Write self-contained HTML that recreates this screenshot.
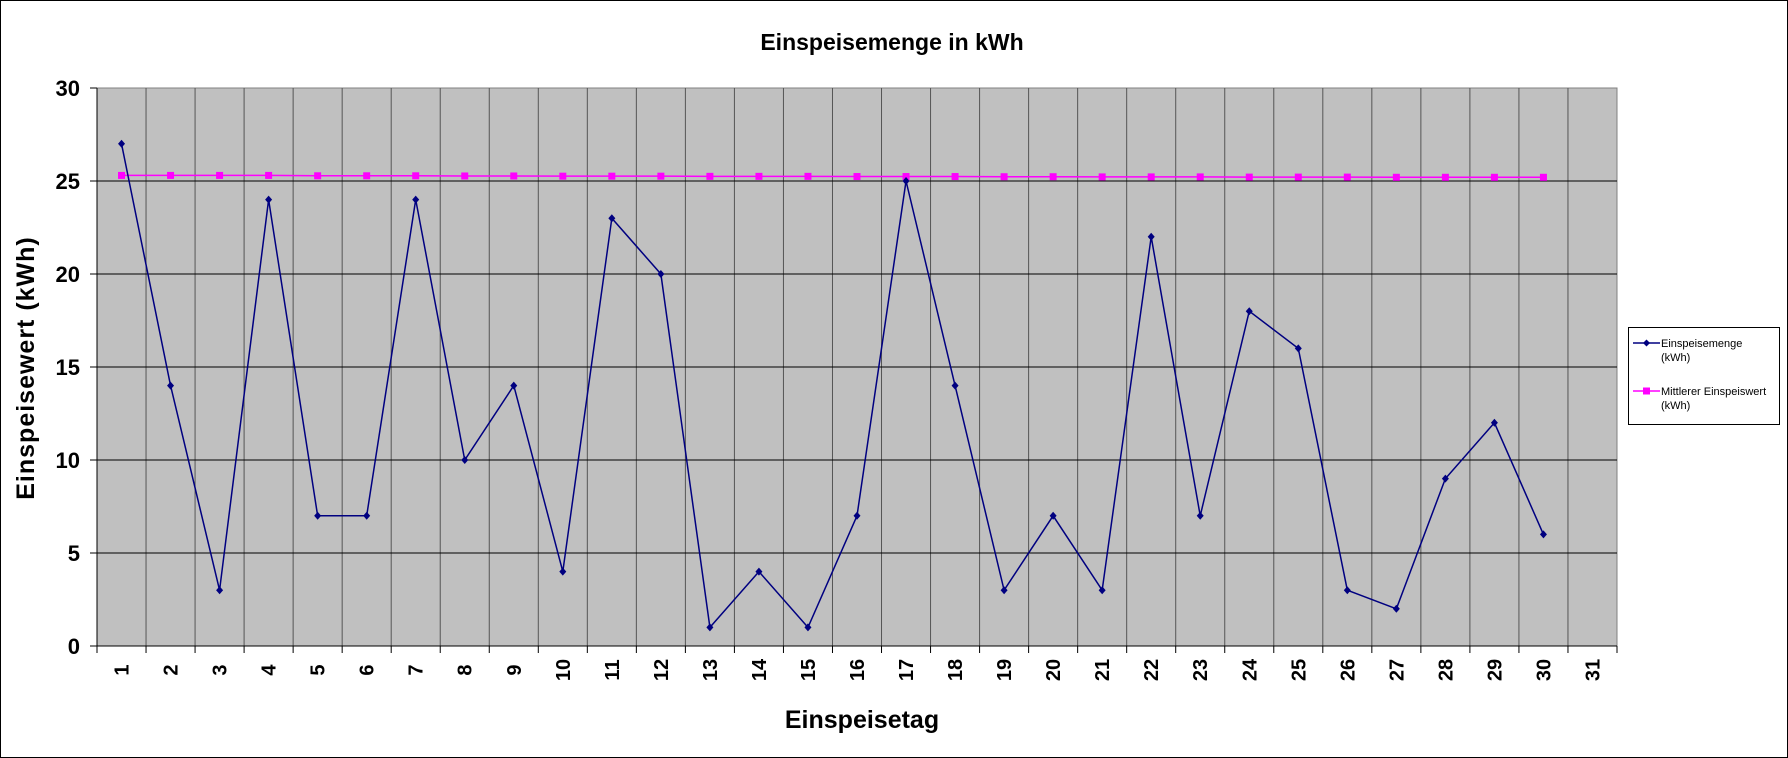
<!DOCTYPE html>
<html><head><meta charset="utf-8"><style>
html,body{margin:0;padding:0;background:#fff}
svg{display:block;font-family:"Liberation Sans",Arial,sans-serif}
</style></head><body>
<svg width="1788" height="758" viewBox="0 0 1788 758">
<rect x="0.5" y="0.5" width="1787" height="757" fill="#fff" stroke="#000"/>
<text x="892" y="50" text-anchor="middle" font-size="23" font-weight="bold">Einspeisemenge in kWh</text>
<rect x="97" y="88" width="1520" height="558" fill="#c0c0c0" stroke="#808080"/>
<g id="grid"></g>
<g id="yticks"></g>
<g id="xticks"></g>
<g id="series"></g>
<text transform="translate(34,368) rotate(-90)" text-anchor="middle" font-size="25" font-weight="bold" letter-spacing="1">Einspeisewert  (kWh)</text>
<text x="862" y="728" text-anchor="middle" font-size="25" font-weight="bold">Einspeisetag</text>
<g>
<rect x="1628.5" y="327.5" width="151" height="97" fill="#fff" stroke="#000"/>
<line x1="1633" y1="343" x2="1660" y2="343" stroke="#000080" stroke-width="1.5"/>
<path d="M1646.5 339.5 L1650 343 L1646.5 346.5 L1643 343Z" fill="#000080"/>
<text x="1661" y="347" font-size="11">Einspeisemenge</text>
<text x="1661" y="361" font-size="11">(kWh)</text>
<line x1="1633" y1="391" x2="1660" y2="391" stroke="#ff00ff" stroke-width="1.5"/>
<rect x="1643" y="387.5" width="7" height="7" fill="#ff00ff"/>
<text x="1661" y="395" font-size="11">Mittlerer Einspeiswert</text>
<text x="1661" y="409" font-size="11">(kWh)</text>
</g>
</svg>
<script>
const days=[1,2,3,4,5,6,7,8,9,10,11,12,13,14,15,16,17,18,19,20,21,22,23,24,25,26,27,28,29,30,31];
const einspeisemenge=[27,14,3,24,7,7,24,10,14,4,23,20,1,4,1,7,25,14,3,7,3,22,7,18,16,3,2,9,12,6];
const mittlerer=[25.3,25.3,25.3,25.3,25.28,25.28,25.28,25.27,25.27,25.26,25.26,25.26,25.25,25.25,25.25,25.24,25.24,25.24,25.23,25.23,25.22,25.22,25.22,25.21,25.21,25.21,25.2,25.2,25.2,25.2];
const yTicks=[0,5,10,15,20,25,30];
const NS='http://www.w3.org/2000/svg';
const X0=97,X1=1617,Y0=646,Y1=88,YMAX=30;
const cw=(X1-X0)/days.length;
function xs(i){return X0+cw*(i+0.5);}
function ys(v){return Y0-(v/YMAX)*(Y0-Y1);}
function mk(tag,at,parent){const e=document.createElementNS(NS,tag);for(const k in at)e.setAttribute(k,at[k]);parent.appendChild(e);return e;}
const grid=document.getElementById('grid'),yt=document.getElementById('yticks'),xt=document.getElementById('xticks'),se=document.getElementById('series');
for(let i=1;i<days.length;i++){const l=mk('line',{x1:X0+cw*i,x2:X0+cw*i,y1:Y1,y2:Y0,stroke:'#555','stroke-width':1},grid);

}
yTicks.forEach(v=>{
 const y=ys(v);
 if(v>0&&v<YMAX){const g=mk('line',{x1:X0,x2:X1,y1:y,y2:y,stroke:'#000','stroke-width':1},grid);
 
 }
 mk('line',{x1:X0-7,x2:X0,y1:y,y2:y,stroke:'#000'},yt);
 const t=mk('text',{x:X0-17,y:y+8,'text-anchor':'end','font-size':22,'font-weight':'bold'},yt);t.textContent=v;
 
 
});
mk('line',{x1:X0,x2:X1,y1:Y0,y2:Y0,stroke:'#000'},xt);
mk('line',{x1:X0,x2:X0,y1:Y1,y2:Y0,stroke:'#000'},xt);
days.forEach((d,i)=>{
 mk('line',{x1:X0+cw*i,x2:X0+cw*i,y1:Y0,y2:Y0+7,stroke:'#000'},xt);
 const cx=xs(i);
 const t=mk('text',{transform:`translate(${cx+7},670) rotate(-90)`,'text-anchor':'middle','font-size':20,'font-weight':'bold'},xt);t.textContent=d;
 
 
});
mk('line',{x1:X1,x2:X1,y1:Y0,y2:Y0+7,stroke:'#000'},xt);
const mp=mittlerer.map((v,i)=>xs(i)+','+ys(v)).join(' ');
const ml=mk('polyline',{points:mp,fill:'none',stroke:'#ff00ff','stroke-width':1.5},se);


mittlerer.forEach((v,i)=>{const r=mk('rect',{x:xs(i)-3.5,y:ys(v)-3.5,width:7,height:7,fill:'#ff00ff'},se);

});
const ep=einspeisemenge.map((v,i)=>xs(i)+','+ys(v)).join(' ');
const el=mk('polyline',{points:ep,fill:'none',stroke:'#000080','stroke-width':1.5},se);


einspeisemenge.forEach((v,i)=>{const x=xs(i),y=ys(v);
const p=mk('path',{d:`M${x} ${y-4}L${x+3.5} ${y}L${x} ${y+4}L${x-3.5} ${y}Z`,fill:'#000080'},se);

});
</script>
</body></html>
